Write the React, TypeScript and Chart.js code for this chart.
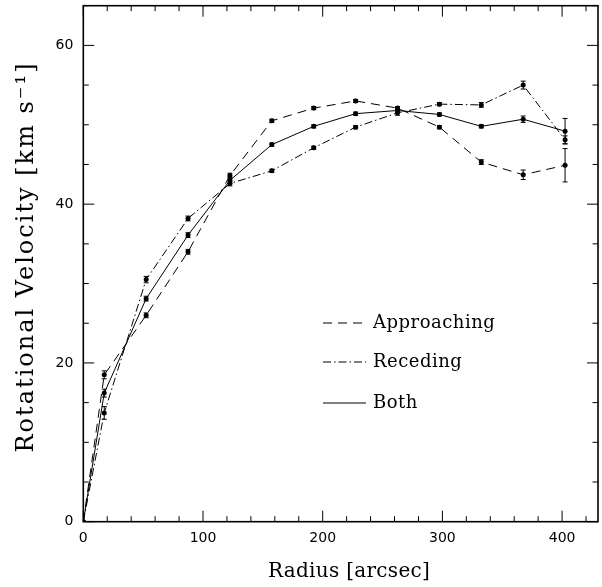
import React, { useEffect, useRef } from "react";
import { Chart, registerables } from "chart.js";
Chart.register(...registerables);

const radii = [0, 17.5, 52.5, 87.5, 122.5, 157.5, 192.5, 227.5, 262.5, 297.5, 332.5, 367.5, 402.5];
const approaching = [0, 18.5, 26.0, 34.0, 43.6, 50.5, 52.1, 53.0, 52.1, 49.7, 45.3, 43.7, 44.9];
const approachingErr = [0, 0.5, 0.3, 0.3, 0.3, 0.2, 0.2, 0.2, 0.2, 0.2, 0.3, 0.6, 2.1];
const receding = [0, 13.7, 30.5, 38.2, 42.6, 44.2, 47.1, 49.7, 51.5, 52.6, 52.5, 55.0, 48.1];
const recedingErr = [0, 0.8, 0.4, 0.3, 0.3, 0.2, 0.2, 0.2, 0.3, 0.2, 0.3, 0.5, 0.5];
const both = [0, 16.2, 28.1, 36.1, 43.0, 47.5, 49.8, 51.4, 51.8, 51.3, 49.8, 50.7, 49.2];
const bothErr = [0, 0.5, 0.3, 0.3, 0.4, 0.2, 0.2, 0.2, 0.3, 0.2, 0.2, 0.4, 1.6];
const seriesLabels = ["Approaching", "Receding", "Both"];
const xTickValues = [0, 100, 200, 300, 400];
const yTickValues = [0, 20, 40, 60];
const xTitle = "Radius [arcsec]";
const yTitle = "Rotational Velocity [km s\u207B\u00B9]";

const errorBars = {
  id: "errorBars",
  afterDatasetsDraw(chart: any) {
    const { ctx } = chart;
    const ys = chart.scales.y;
    chart.data.datasets.forEach((ds: any, di: number) => {
      const meta = chart.getDatasetMeta(di);
      const errs: number[] = ds.errors || [];
      meta.data.forEach((pt: any, i: number) => {
        const e = errs[i];
        if (!e) return;
        const v = ds.data[i].y;
        const y1 = ys.getPixelForValue(v - e);
        const y2 = ys.getPixelForValue(v + e);
        ctx.save();
        ctx.strokeStyle = "#000";
        ctx.lineWidth = 1;
        ctx.setLineDash([]);
        ctx.beginPath();
        ctx.moveTo(pt.x, y1);
        ctx.lineTo(pt.x, y2);
        ctx.moveTo(pt.x - 2.5, y1);
        ctx.lineTo(pt.x + 2.5, y1);
        ctx.moveTo(pt.x - 2.5, y2);
        ctx.lineTo(pt.x + 2.5, y2);
        ctx.stroke();
        ctx.restore();
      });
    });
  },
};

const frameTicks = {
  id: "frameTicks",
  afterDraw(chart: any) {
    const { ctx, chartArea: a } = chart;
    const xs = chart.scales.x;
    const ys = chart.scales.y;
    ctx.save();
    ctx.strokeStyle = "#000";
    ctx.setLineDash([]);
    ctx.lineWidth = 1;
    ctx.beginPath();
    for (let v = 0; v <= xs.max; v += 20) {
      const x = xs.getPixelForValue(v);
      const len = v % 100 === 0 ? 11 : 5.5;
      ctx.moveTo(x, a.bottom);
      ctx.lineTo(x, a.bottom - len);
      ctx.moveTo(x, a.top);
      ctx.lineTo(x, a.top + len);
    }
    for (let v = 0; v <= ys.max; v += 5) {
      const y = ys.getPixelForValue(v);
      const len = v % 20 === 0 ? 11 : 5.5;
      ctx.moveTo(a.left, y);
      ctx.lineTo(a.left + len, y);
      ctx.moveTo(a.right, y);
      ctx.lineTo(a.right - len, y);
    }
    ctx.stroke();
    ctx.lineWidth = 1.6;
    ctx.strokeRect(a.left, a.top, a.right - a.left, a.bottom - a.top);
    ctx.restore();
  },
};

const titlesAndLegend = {
  id: "titlesAndLegend",
  afterDraw(chart: any) {
    const { ctx } = chart;
    ctx.save();
    ctx.fillStyle = "#000";
    // x-axis title
    ctx.font = "20px 'DejaVu Serif'";
    (ctx as any).letterSpacing = "0.3px";
    ctx.textAlign = "center";
    ctx.textBaseline = "alphabetic";
    ctx.fillText(xTitle, 349, 577);
    // y-axis title
    ctx.save();
    ctx.font = "24px 'DejaVu Serif'";
    (ctx as any).letterSpacing = "2px";
    ctx.translate(33, 257);
    ctx.rotate(-Math.PI / 2);
    ctx.fillText(yTitle, 0, 0);
    ctx.restore();
    // legend
    const rows = [323, 362, 403];
    ctx.font = "18px 'DejaVu Serif'";
    (ctx as any).letterSpacing = "0.5px";
    ctx.textAlign = "left";
    ctx.textBaseline = "middle";
    chart.data.datasets.forEach((ds: any, i: number) => {
      const y = rows[i];
      ctx.strokeStyle = "#000";
      ctx.lineWidth = 1;
      ctx.setLineDash(ds.borderDash || []);
      ctx.beginPath();
      ctx.moveTo(323, y);
      ctx.lineTo(366, y);
      ctx.stroke();
      ctx.setLineDash([]);
      ctx.fillText(ds.label, 373, y);
    });
    ctx.restore();
  },
};

export default function App() {
  const ref = useRef<HTMLCanvasElement>(null);
  useEffect(() => {
    if (!ref.current) return;
    const mk = (vals: number[]) => radii.map((r, i) => ({ x: r, y: vals[i] }));
    const dashes = [[9, 6], [8, 3, 1.5, 3], []];
    const valsList = [approaching, receding, both];
    const errList = [approachingErr, recedingErr, bothErr];
    const chart = new Chart(ref.current, {
      type: "line",
      data: {
        datasets: seriesLabels.map((label, i) => ({
          label,
          data: mk(valsList[i]),
          errors: errList[i],
          borderColor: "#000",
          borderWidth: 1,
          borderDash: dashes[i],
          backgroundColor: "#000",
          pointRadius: 2.5,
          pointBackgroundColor: "#000",
          pointBorderWidth: 0,
          tension: 0,
          fill: false,
        })) as any,
      },
      options: {
        animation: false,
        responsive: true,
        maintainAspectRatio: false,
        layout: { padding: { top: 5.7, right: 2.7, left: 0, bottom: 0 } },
        plugins: { legend: { display: false }, tooltip: { enabled: false } },
        scales: {
          x: {
            type: "linear",
            min: 0,
            max: 430,
            grid: { display: false, drawTicks: false },
            border: { display: false },
            afterFit: (s: any) => {
              s.height = 65.3;
              s.paddingLeft = 0;
              s.paddingRight = 0;
            },
            afterBuildTicks: (s: any) => { s.ticks = xTickValues.map((v) => ({ value: v })); },
            ticks: {
              padding: 8,
              color: "#000",
              font: { family: "'DejaVu Sans'", size: 14 },
              maxRotation: 0,
            },
            title: { display: false },
          },
          y: {
            type: "linear",
            min: 0,
            max: 65,
            grid: { display: false, drawTicks: false },
            border: { display: false },
            afterFit: (s: any) => {
              s.width = 83.3;
              s.paddingTop = 0;
              s.paddingBottom = 0;
            },
            afterBuildTicks: (s: any) => { s.ticks = yTickValues.map((v) => ({ value: v })); },
            ticks: {
              padding: 10,
              color: "#000",
              font: { family: "'DejaVu Sans'", size: 14 },
            },
            title: { display: false },
          },
        },
      },
      plugins: [errorBars, frameTicks, titlesAndLegend],
    });
    return () => chart.destroy();
  }, []);
  return (
    <div style={{ position: "absolute", left: 0, top: 0, width: 602, height: 587 }}>
      <canvas ref={ref} />
    </div>
  );
}
